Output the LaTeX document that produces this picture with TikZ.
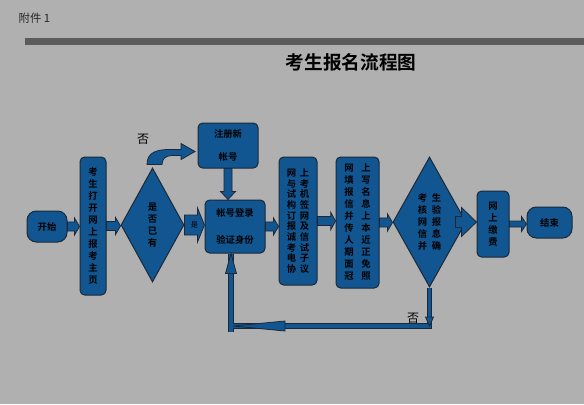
\documentclass[tikz,border=0pt]{standalone}
\usepackage{fontspec}
\usetikzlibrary{shapes.geometric,calc}
\newfontfamily\cjk{Noto Sans CJK SC}[BoldFont={Noto Sans CJK SC Bold}]
\definecolor{flowblue}{RGB}{17,86,145}
\definecolor{flowline}{RGB}{28,40,56}
\definecolor{pagegray}{RGB}{176,176,176}
\definecolor{bargray}{RGB}{91,91,91}

\newcommand{\blockarrow}[5]{%
  \coordinate (ba-head) at ($(#2)!#5!(#1)$);
  \filldraw[block-arrow] ($(#1)!#3!90:(#2)$) -- ($(ba-head)!#3!90:(#2)$)
    -- ($(ba-head)!#4!90:(#2)$) -- (#2) -- ($(ba-head)!#4!-90:(#2)$)
    -- ($(ba-head)!#3!-90:(#2)$) -- ($(#1)!#3!-90:(#2)$) -- cycle;}

\begin{document}
\begin{tikzpicture}[
  x=0.75pt, y=-0.75pt,
  flow-box/.style={draw=flowline, fill=flowblue, line width=0.75pt,
    rounded corners=3.5pt, inner sep=0pt, align=center,
    font=\cjk\bfseries\fontsize{7}{9}\selectfont},
  flow-term/.style={flow-box, rounded corners=7pt},
  flow-test/.style={flow-box, diamond, sharp corners, shape aspect=0.56},
  block-arrow/.style={draw=flowline, fill=flowblue, line width=0.6pt, line join=miter},
  loop-line/.style={draw=flowline, double=flowblue, double distance=2.6pt, line width=0.6pt},
  answer/.style={font=\cjk\fontsize{9}{9}\selectfont},
  ]
  \fill[pagegray] (0,0) rectangle (584,404);
  \useasboundingbox (0,0) rectangle (584,404);

  \node[anchor=west, text=black!85, font=\cjk\fontsize{8.5}{9}\selectfont] (annex) at (14,18) {附件 1};
  \fill[bargray] (25,38) rectangle (584,45);
  \node[font=\cjk\bfseries\fontsize{14}{16}\selectfont] (title) at (351,62) {考生报名流程图};

  \node[flow-term, minimum width=30pt, minimum height=23.25pt] (start) at (47,226.5) {开始};
  \node[flow-box, minimum width=19.5pt, minimum height=103.5pt] (open-page) at (93,226)
    {考\\生\\打\\开\\网\\上\\报\\考\\主\\页};
  \node[flow-test, minimum width=47.25pt, minimum height=85.5pt] (has-account) at (152.5,225)
    {是\\否\\已\\有};
  \node[flow-box, minimum width=45pt, minimum height=33.75pt] (register) at (228,145.5)
    {注册新\\[8pt]帐号};
  \node[flow-box, minimum width=45pt, minimum height=39.75pt] (login) at (235,226.5)
    {帐号登录\\[11pt]验证身份};
  \node[flow-box, minimum width=28.5pt, minimum height=96pt,
    font=\cjk\bfseries\fontsize{7}{8}\selectfont] (sign-agreement) at (298,221)
    {网\hspace{2.75pt}上\\与\hspace{2.75pt}考\\试\hspace{2.75pt}机\\构\hspace{2.75pt}签\\订\hspace{2.75pt}网\\
     报\hspace{2.75pt}及\\诚\hspace{2.75pt}信\\考\hspace{2.75pt}试\\电\hspace{2.75pt}子\\协\hspace{2.75pt}议};
  \node[flow-box, minimum width=32.25pt, minimum height=98.25pt] (fill-info) at (357.5,222.5)
    {网\hspace{5.75pt}上\\填\hspace{5.75pt}写\\报\hspace{5.75pt}名\\信\hspace{5.75pt}息\\并\hspace{5.75pt}上\\
     传\hspace{5.75pt}本\\人\hspace{5.75pt}近\\期\hspace{5.75pt}正\\面\hspace{5.75pt}免\\冠\hspace{5.75pt}照};
  \node[flow-test, minimum width=54.75pt, minimum height=97.5pt] (verify) at (429.5,222)
    {考\hspace{3.5pt}生\\核\hspace{3.5pt}验\\网\hspace{3.5pt}报\\信\hspace{3.5pt}息\\并\hspace{3.5pt}确};
  \node[flow-box, minimum width=24pt, minimum height=49.5pt] (pay) at (493,224)
    {网\\上\\缴\\费};
  \node[flow-term, minimum width=33.75pt, minimum height=23.25pt] (finish) at (549.5,222.5) {结束};

  \blockarrow{start.east}{start.east -| open-page.west}{3.4pt}{6.4pt}{3.75pt}
  \blockarrow{open-page.east}{open-page.east -| has-account.west}{3.4pt}{6.4pt}{3.75pt}
  \blockarrow{has-account.east}{has-account.east -| login.west}{7.5pt}{12.75pt}{5.25pt}
  \node[font=\cjk\fontsize{5.5}{6}\selectfont] (yes) at ($(has-account.east)!0.5!(has-account.east -| login.west)$) {是};
  \blockarrow{register.south}{register.south |- login.north}{3pt}{5.6pt}{6pt}
  \blockarrow{login.east}{login.east -| sign-agreement.west}{3.4pt}{6.4pt}{3.75pt}
  \blockarrow{sign-agreement.east}{sign-agreement.east -| fill-info.west}{3.4pt}{6.4pt}{3.5pt}
  \blockarrow{fill-info.east}{fill-info.east -| verify.west}{3.4pt}{6.4pt}{3.75pt}
  \coordinate (verify-out) at ($(verify.east)+(-11,0)$);
  \blockarrow{verify-out}{verify-out -| pay.west}{4.1pt}{10.9pt}{11.25pt}
  \blockarrow{pay.east}{pay.east -| finish.west}{2.25pt}{5.6pt}{3.75pt}

  \coordinate (no-base) at ($(has-account.north)+(0,-3)$);
  \filldraw[block-arrow, shift={(no-base)}] (-5.5,0) .. controls (-5.5,-13) and (5.5,-15) .. (17.5,-15)
    -- (28.5,-15) -- (28.5,-21) -- (42.5,-13) -- (28.5,-5) -- (28.5,-9) -- (19.5,-9)
    .. controls (12.5,-9) and (9.5,-5) .. (9.5,0) -- cycle;
  \node[answer] (no-upper) at (143,139) {否};

  \coordinate (loop-right) at (verify.south |- 0,326);
  \coordinate (loop-left) at (233,326);
  \coordinate (loop-foot) at (231,332);
  \draw[loop-line] (loop-foot) -- (loop-foot |- login.south);
  \draw[loop-line] (verify.south) -- (loop-right) -- (loop-left);
  \filldraw[block-arrow] ($(loop-right)+(-4,-9)$) -- ($(loop-right)+(4,-9)$) -- (loop-right) -- cycle;
  \filldraw[block-arrow] (loop-left) -- ($(loop-left)+(52,-5)$) -- ($(loop-left)+(52,5)$) -- cycle;
  \filldraw[block-arrow] (loop-foot |- login.south) -- ++(-5.5,20) -- ++(11,0) -- cycle;
  \node[answer] (no-lower) at (413,318) {否};
\end{tikzpicture}
\end{document}
